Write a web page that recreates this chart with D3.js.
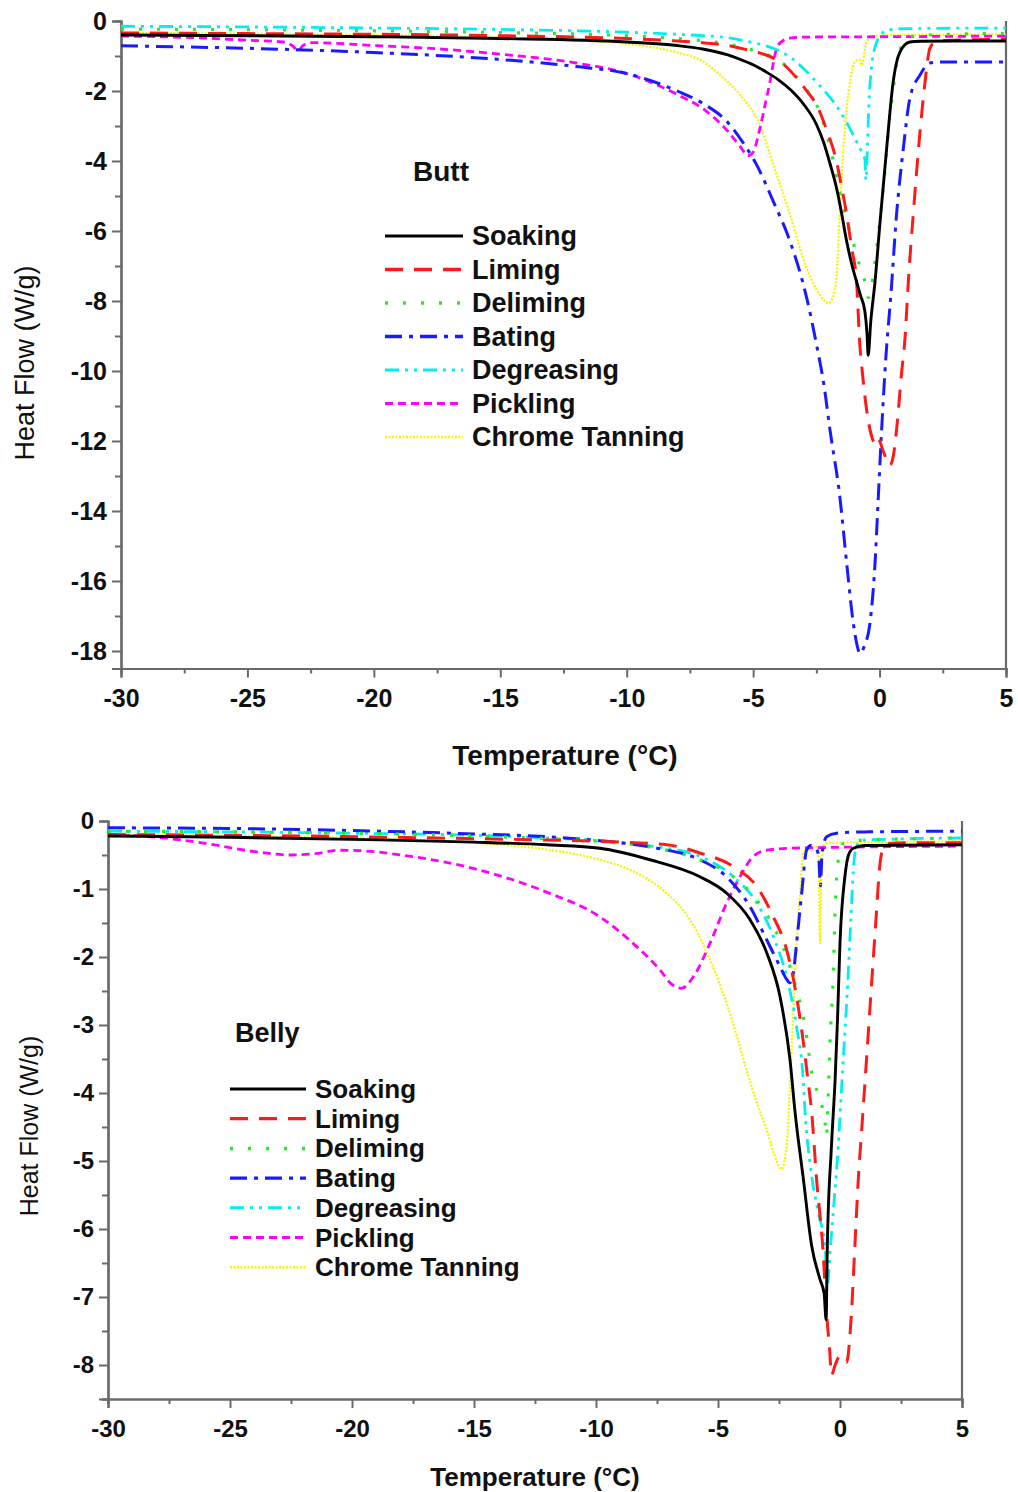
<!DOCTYPE html>
<html>
<head>
<meta charset="utf-8">
<script src="https://cdn.jsdelivr.net/npm/d3@7"></script>
<style>
  body { margin: 0; background: #fff; }
  svg { display: block; }
  text { font-family: "Liberation Sans", Arial, sans-serif; fill: #111; }
</style>
</head>
<body>
<svg id="chart" width="1018" height="1492"></svg>
<script>
// ---- Data: DSC heat-flow curves (Temperature °C, Heat Flow W/g) ----
const stageNames = ["Soaking", "Liming", "Deliming", "Bating", "Degreasing", "Pickling", "Chrome Tanning"];

const xTicks = [-30, -25, -20, -15, -10, -5, 0, 5];
const buttYTicks = [0, -2, -4, -6, -8, -10, -12, -14, -16, -18];
const bellyYTicks = [0, -1, -2, -3, -4, -5, -6, -7, -8];

// Butt
const buttSoaking = [[-30,-0.40],[-25,-0.42],[-20,-0.45],[-15,-0.5],[-10,-0.6],[-8,-0.7],[-7,-0.8],[-6,-0.97],[-5.5,-1.1],[-5,-1.25],[-4.5,-1.45],[-4,-1.68],[-3.5,-1.98],[-3,-2.38],[-2.5,-2.95],[-2.22,-3.45],[-1.95,-4.1],[-1.7,-4.78],[-1.5,-5.5],[-1.3,-6.3],[-1.1,-6.95],[-0.91,-7.45],[-0.75,-7.85],[-0.58,-8.3],[-0.5,-8.9],[-0.45,-9.55],[-0.35,-8.6],[-0.18,-7.45],[0.02,-5.73],[0.28,-3.64],[0.54,-1.73],[0.7,-1.1],[0.81,-0.88],[1.0,-0.68],[1.2,-0.6],[1.6,-0.58],[3,-0.57],[5,-0.57]];
const buttLiming = [[-30,-0.34],[-25,-0.36],[-20,-0.38],[-15,-0.42],[-10,-0.5],[-8,-0.57],[-7,-0.62],[-6,-0.7],[-5.5,-0.78],[-4.8,-0.9],[-4.2,-1.06],[-3.7,-1.3],[-3.28,-1.63],[-2.9,-1.98],[-2.49,-2.4],[-2.1,-3.1],[-1.7,-4.02],[-1.5,-4.75],[-1.3,-5.54],[-1.1,-6.5],[-0.91,-7.45],[-0.78,-9.26],[-0.7,-9.9],[-0.58,-10.73],[-0.3,-11.9],[-0.15,-12.1],[-0.05,-11.95],[0.15,-12.3],[0.4,-12.7],[0.55,-12.4],[0.67,-11.69],[0.87,-10.06],[1.0,-9.11],[1.15,-7.3],[1.33,-5.54],[1.6,-3.16],[1.8,-1.73],[1.99,-0.78],[2.2,-0.6],[2.6,-0.56],[5,-0.52]];
const buttDeliming = [[-30,-0.23],[-25,-0.25],[-20,-0.28],[-15,-0.33],[-10,-0.42],[-8,-0.5],[-7,-0.56],[-6,-0.66],[-5.5,-0.74],[-4.8,-0.88],[-4.2,-1.04],[-3.7,-1.28],[-3.28,-1.6],[-2.9,-1.95],[-2.49,-2.4],[-2.1,-3.2],[-1.8,-4.1],[-1.58,-4.88],[-1.3,-5.7],[-1.05,-6.3],[-0.85,-6.85],[-0.64,-7.26],[-0.44,-7.9],[-0.3,-7.5],[-0.18,-6.88],[0.0,-5.8],[0.15,-4.78],[0.41,-2.69],[0.55,-1.9],[0.67,-1.26],[0.8,-0.85],[0.94,-0.6],[1.2,-0.45],[2,-0.4],[5,-0.35]];
const buttBating = [[-30,-0.71],[-25,-0.78],[-20,-0.9],[-15,-1.1],[-12,-1.3],[-10,-1.5],[-8,-2.0],[-7,-2.35],[-6,-2.9],[-5.52,-3.35],[-4.86,-4.11],[-4.2,-5.16],[-3.54,-6.3],[-2.88,-7.92],[-2.49,-9.26],[-2.2,-10.4],[-1.96,-11.69],[-1.57,-13.6],[-1.3,-15.5],[-1.04,-17.2],[-0.9,-17.8],[-0.78,-18.07],[-0.6,-17.85],[-0.38,-17.2],[-0.18,-15.5],[-0.05,-13.6],[0.08,-11.7],[0.25,-9.6],[0.45,-7.8],[0.67,-5.54],[0.94,-3.64],[1.2,-2.2],[1.6,-1.54],[1.99,-1.2],[2.5,-1.17],[5,-1.17]];
const buttDegreasing = [[-30,-0.15],[-25,-0.17],[-20,-0.2],[-15,-0.24],[-10,-0.32],[-8,-0.38],[-7,-0.42],[-6,-0.48],[-5.52,-0.54],[-4.8,-0.65],[-4.2,-0.78],[-3.5,-1.05],[-2.88,-1.45],[-2.3,-1.9],[-1.83,-2.3],[-1.3,-2.9],[-0.91,-3.45],[-0.7,-3.75],[-0.58,-3.95],[-0.54,-4.54],[-0.48,-3.6],[-0.44,-2.69],[-0.31,-1.26],[-0.2,-0.8],[-0.11,-0.59],[0.1,-0.35],[0.28,-0.26],[1,-0.22],[5,-0.2]];
const buttPickling = [[-30,-0.43],[-27,-0.48],[-25,-0.55],[-23.6,-0.6],[-23.2,-0.72],[-23,-0.85],[-22.8,-0.7],[-22.4,-0.62],[-20,-0.7],[-17,-0.82],[-15,-0.95],[-12,-1.2],[-10,-1.5],[-8,-2.1],[-7,-2.5],[-6,-3.15],[-5.5,-3.6],[-5.2,-3.85],[-5.0,-3.75],[-4.73,-3.06],[-4.5,-2.3],[-4.33,-1.73],[-4.2,-1.2],[-4.07,-0.78],[-3.8,-0.55],[-3.54,-0.49],[-3,-0.46],[0,-0.45],[5,-0.43]];
const buttChrome = [[-30,-0.34],[-25,-0.36],[-20,-0.4],[-15,-0.47],[-12,-0.55],[-10,-0.65],[-9,-0.75],[-8,-0.9],[-7,-1.15],[-6.3,-1.55],[-5.52,-2.11],[-4.73,-2.97],[-4.2,-4.11],[-3.54,-5.54],[-2.88,-7.07],[-2.36,-7.83],[-2.03,-8.06],[-1.85,-7.9],[-1.7,-7.26],[-1.58,-5.54],[-1.43,-3.64],[-1.17,-1.73],[-0.97,-1.16],[-0.8,-1.1],[-0.7,-1.26],[-0.6,-0.9],[-0.51,-0.59],[-0.3,-0.45],[0.5,-0.4],[5,-0.38]];

// Belly
const bellySoaking = [[-30,-0.22],[-25,-0.24],[-20,-0.27],[-15,-0.31],[-12,-0.35],[-9.84,-0.40],[-7.79,-0.57],[-5.74,-0.82],[-4.65,-1.06],[-3.69,-1.45],[-3.0,-1.94],[-2.46,-2.58],[-2.05,-3.51],[-1.84,-4.29],[-1.5,-5.27],[-1.16,-6.25],[-0.82,-6.74],[-0.65,-6.95],[-0.57,-7.33],[-0.52,-6.25],[-0.35,-4.78],[-0.2,-3.8],[-0.1,-2.9],[0.0,-1.79],[0.2,-0.82],[0.35,-0.5],[0.55,-0.40],[1,-0.36],[5,-0.35]];
const bellyLiming = [[-30,-0.2],[-25,-0.21],[-20,-0.23],[-15,-0.26],[-12,-0.28],[-9.84,-0.30],[-7.1,-0.35],[-5.74,-0.47],[-4.37,-0.67],[-3.42,-0.96],[-2.73,-1.41],[-2.19,-1.89],[-1.78,-2.58],[-1.5,-3.26],[-1.3,-3.85],[-1.16,-4.29],[-0.96,-5.27],[-0.69,-6.35],[-0.55,-7.23],[-0.42,-7.8],[-0.35,-8.15],[-0.2,-8.0],[0.0,-7.87],[0.27,-7.96],[0.4,-7.6],[0.47,-7.23],[0.61,-6.25],[0.75,-5.27],[0.89,-4.54],[1.05,-3.7],[1.2,-2.9],[1.35,-2.1],[1.5,-1.31],[1.62,-0.7],[1.75,-0.42],[2.05,-0.33],[3,-0.32],[5,-0.32]];
const bellyDeliming = [[-30,-0.15],[-25,-0.16],[-20,-0.18],[-15,-0.22],[-12,-0.26],[-9.84,-0.3],[-7.5,-0.4],[-5.74,-0.57],[-4.37,-0.82],[-3.42,-1.16],[-2.73,-1.55],[-2.19,-1.99],[-1.78,-2.48],[-1.43,-3.02],[-1.16,-3.7],[-0.82,-4.1],[-0.61,-4.44],[-0.56,-4.64],[-0.5,-4.2],[-0.41,-3.26],[-0.28,-2.29],[-0.2,-1.31],[-0.07,-0.57],[0.14,-0.33],[1,-0.28],[5,-0.25]];
const bellyBating = [[-30,-0.1],[-25,-0.11],[-20,-0.14],[-15,-0.19],[-12,-0.23],[-9.84,-0.29],[-7.5,-0.4],[-5.74,-0.57],[-4.65,-0.82],[-3.69,-1.26],[-3.0,-1.75],[-2.46,-2.14],[-2.2,-2.32],[-2.05,-2.38],[-1.9,-2.2],[-1.78,-1.8],[-1.57,-1.06],[-1.37,-0.43],[-1.2,-0.36],[-1.0,-0.4],[-0.88,-0.5],[-0.8,-0.95],[-0.74,-0.5],[-0.55,-0.23],[-0.14,-0.18],[1,-0.16],[5,-0.15]];
const bellyDegreasing = [[-30,-0.15],[-25,-0.16],[-20,-0.18],[-15,-0.21],[-12,-0.25],[-9.84,-0.29],[-7.5,-0.38],[-5.74,-0.52],[-4.37,-0.82],[-3.42,-1.2],[-2.73,-1.7],[-2.19,-2.29],[-1.78,-3.02],[-1.5,-3.85],[-1.43,-4.29],[-1.23,-5.03],[-0.89,-5.76],[-0.61,-6.25],[-0.52,-6.84],[-0.4,-6.3],[-0.28,-5.76],[-0.07,-4.78],[0.1,-3.7],[0.3,-2.5],[0.45,-1.4],[0.55,-0.7],[0.65,-0.4],[0.8,-0.3],[1,-0.28],[5,-0.25]];
const bellyPickling = [[-30,-0.2],[-28,-0.24],[-26,-0.33],[-24,-0.45],[-22.5,-0.5],[-21.5,-0.48],[-20.5,-0.43],[-19.5,-0.44],[-18,-0.5],[-15,-0.7],[-12,-1.05],[-9.84,-1.41],[-8.48,-1.8],[-7.38,-2.19],[-6.9,-2.4],[-6.5,-2.46],[-6.01,-2.29],[-5.33,-1.8],[-4.65,-1.21],[-4.1,-0.82],[-3.55,-0.52],[-3.0,-0.43],[-2,-0.4],[5,-0.37]];
const bellyChrome = [[-30,-0.2],[-25,-0.22],[-20,-0.25],[-15,-0.32],[-12,-0.42],[-9.84,-0.57],[-8.48,-0.74],[-7.11,-1.06],[-6.15,-1.45],[-5.33,-2.04],[-4.65,-2.68],[-4.2,-3.2],[-3.8,-3.7],[-3.4,-4.15],[-3.0,-4.55],[-2.7,-4.9],[-2.5,-5.08],[-2.4,-5.12],[-2.19,-4.78],[-2.05,-3.9],[-1.91,-2.78],[-1.78,-1.8],[-1.64,-1.06],[-1.5,-0.47],[-1.23,-0.38],[-0.9,-0.38],[-0.85,-1.0],[-0.82,-1.8],[-0.78,-1.0],[-0.72,-0.38],[-0.5,-0.32],[5,-0.3]];

// ---- Line styles, one per stage ----
const stageColors = ["#000000", "#ff1a1a", "#22ee22", "#1a1aff", "#00f0f0", "#ff00ff", "#f5f500"];
const stageDashes = ["none", "18 11", "3 15", "17 7 4 7", "14 6 3 6 3 6", "8 5", "2 1.5"];
const stageWidths = [2.9, 3, 3.2, 3, 2.8, 2.8, 2.2];

// ---- Panel layout ----
const panels = [
  {
    series: [buttSoaking, buttLiming, buttDeliming, buttBating, buttDegreasing, buttPickling, buttChrome],
    yDomain: [-18.5, 0], yTicks: buttYTicks, yStep: 1,
    left: 121, right: 1006, top: 21, bottom: 668.5,
    title: "Butt", titleX: 413, titleY: 181,
    legX: 385, legLine: 78, legY: 236, legStep: 33.5, legFont: 27,
    tickFont: 25, xTitleFont: 28, yTitleFont: 27,
    xTitleX: 565, xTitleY: 765, yTitleX: 34, yTitleY: 363, titleFont: 28
  },
  {
    series: [bellySoaking, bellyLiming, bellyDeliming, bellyBating, bellyDegreasing, bellyPickling, bellyChrome],
    yDomain: [-8.5, 0], yTicks: bellyYTicks, yStep: 0.5,
    left: 108, right: 962, top: 821, bottom: 1399,
    title: "Belly", titleX: 235, titleY: 1042,
    legX: 230, legLine: 76, legY: 1089, legStep: 29.7, legFont: 26,
    tickFont: 24, xTitleFont: 26, yTitleFont: 25,
    xTitleX: 535, xTitleY: 1486, yTitleX: 38, yTitleY: 1126, titleFont: 27
  }
];

const svg = d3.select("#chart");
const axisColor = "#6a6a6a";

panels.forEach(p => {
  const x = d3.scaleLinear().domain([-30, 5]).range([p.left, p.right]);
  const y = d3.scaleLinear().domain(p.yDomain).range([p.bottom, p.top]);
  const g = svg.append("g");

  // minor ticks
  const xMinor = d3.range(-27.5, 5, 5);
  const yMinor = d3.range(p.yDomain[0] + 0.000001, 0, p.yStep)
    .map(v => Math.round(v / p.yStep) * p.yStep)
    .filter(v => !p.yTicks.includes(v) && v >= p.yDomain[0]);

  const xAxisMinor = g.append("g").attr("transform", `translate(0,${p.bottom})`)
    .call(d3.axisBottom(x).tickValues(xMinor).tickSize(5).tickFormat(""));
  const yAxisMinor = g.append("g").attr("transform", `translate(${p.left},0)`)
    .call(d3.axisLeft(y).tickValues(yMinor).tickSize(6).tickFormat(""));

  const xAxis = g.append("g").attr("transform", `translate(0,${p.bottom})`)
    .call(d3.axisBottom(x).tickValues(xTicks).tickSize(9).tickPadding(12).tickFormat(d => String(d)));
  const yAxis = g.append("g").attr("transform", `translate(${p.left},0)`)
    .call(d3.axisLeft(y).tickValues(p.yTicks).tickSize(9).tickPadding(5).tickFormat(d => String(d)));

  [xAxisMinor, yAxisMinor, xAxis, yAxis].forEach(a => {
    a.select(".domain").attr("stroke", axisColor).attr("stroke-width", 2.2);
    a.selectAll(".tick line").attr("stroke", axisColor).attr("stroke-width", 2);
    a.selectAll("text").attr("font-size", p.tickFont).attr("font-weight", "bold")
      .attr("font-family", "'Liberation Sans', Arial, sans-serif").attr("fill", "#111");
  });

  // right frame edge
  g.append("line").attr("x1", p.right).attr("x2", p.right)
    .attr("y1", y(0)).attr("y2", p.bottom)
    .attr("stroke", axisColor).attr("stroke-width", 2.2);

  // curves
  const line = d3.line().x(d => x(d[0])).y(d => y(d[1])).curve(d3.curveMonotoneX);
  const order = [6, 5, 4, 3, 2, 1, 0];
  order.forEach(i => {
    g.append("path").datum(p.series[i])
      .attr("d", line)
      .attr("fill", "none")
      .attr("stroke", stageColors[i])
      .attr("stroke-width", stageWidths[i])
      .attr("stroke-dasharray", stageDashes[i])
      .attr("stroke-linejoin", "round");
  });

  // axis titles
  g.append("text").attr("x", p.xTitleX).attr("y", p.xTitleY)
    .attr("text-anchor", "middle").attr("font-size", p.xTitleFont).attr("font-weight", "bold")
    .text("Temperature (°C)");
  g.append("text")
    .attr("transform", `translate(${p.yTitleX},${p.yTitleY}) rotate(-90)`)
    .attr("text-anchor", "middle").attr("font-size", p.yTitleFont)
    .text("Heat Flow (W/g)");

  // legend
  g.append("text").attr("x", p.titleX).attr("y", p.titleY)
    .attr("font-size", p.titleFont).attr("font-weight", "bold").text(p.title);
  stageNames.forEach((name, i) => {
    const ly = p.legY + i * p.legStep;
    g.append("line").attr("x1", p.legX).attr("x2", p.legX + p.legLine)
      .attr("y1", ly).attr("y2", ly)
      .attr("stroke", stageColors[i]).attr("stroke-width", stageWidths[i] + 0.3)
      .attr("stroke-dasharray", stageDashes[i]);
    g.append("text").attr("x", p.legX + p.legLine + 9).attr("y", ly + 9)
      .attr("font-size", p.legFont).attr("font-weight", "bold").text(name);
  });
});
</script>
</body>
</html>
